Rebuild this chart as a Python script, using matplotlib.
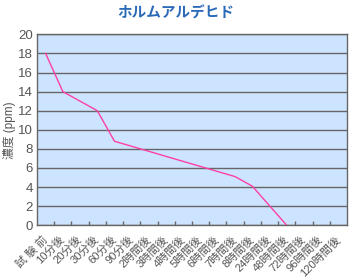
import matplotlib.pyplot as plt
import numpy as np

plt.rcParams['font.family'] = ['Liberation Sans', 'Noto Sans CJK JP', 'DejaVu Sans']

labels = ['試 験 前', '10分後', '20分後', '30分後', '60分後', '90分後',
          '2時間後', '3時間後', '4時間後', '5時間後', '6時間後', '7時間後',
          '8時間後', '24時間後', '48時間後', '72時間後', '96時間後', '120時間後']
# measured points only (None = not measured)
values = [18, 14, None, 12, 8.8, None, None, None, None, None, None, 5.1,
          4.1, None, 0, None, None, None]

xs = [i for i, v in enumerate(values) if v is not None]
ys = [v for v in values if v is not None]

fig = plt.figure(figsize=(3.5, 2.8), dpi=100)
ax = fig.add_axes([37 / 350, 1 - 225.3 / 280, 310 / 350, 191 / 280])
ax.set_facecolor('#cce4ff')

ax.plot(xs, ys, color='#ff3fa6', lw=1, zorder=3)

ax.set_xlim(-0.5, len(labels) - 0.5)
ax.set_ylim(0, 20)
ax.set_yticks(np.arange(0, 21, 2))
ax.grid(axis='y', color='#666666', lw=1)
ax.set_axisbelow(True)

ax.set_xticks(range(len(labels)))
ax.set_xticklabels(labels, rotation=45, ha='right', va='center',
                   rotation_mode='anchor', fontsize=8, color='#555555')
ax.tick_params(axis='x', length=0, pad=9)
ax.set_xticks(np.arange(0.5, len(labels) - 0.5, 1), minor=True)
ax.tick_params(axis='x', which='minor', direction='in', length=3,
               color='#666666', width=1)
ax.tick_params(axis='y', length=0, labelsize=9.5, labelcolor='#555555', pad=3)

for s in ax.spines.values():
    s.set_color('#666666')
    s.set_linewidth(1)

fig.text(10 / 350, 1 - 130 / 280, '濃度 (ppm)', rotation=90, ha='center',
         va='center', fontsize=8.5, color='#555555')
fig.text(0.503, 0.955, 'ホルムアルデヒド', ha='center', va='center',
         fontsize=10.5, fontweight='bold', color='#2a6ab8',
         family=['Noto Sans CJK JP'])

fig.savefig('out.png', dpi=100)
